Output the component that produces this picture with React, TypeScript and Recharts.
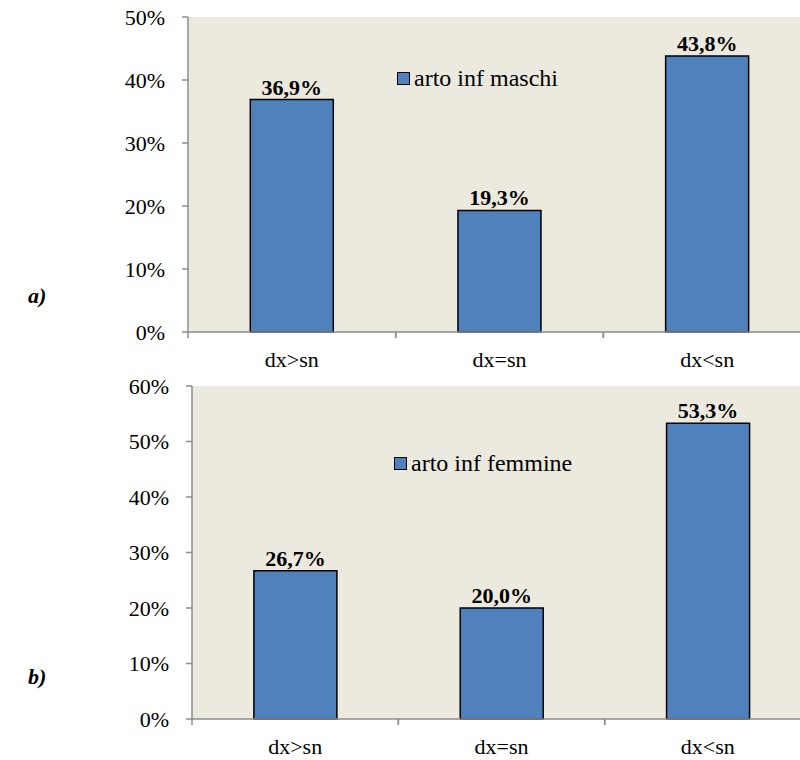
import { BarChart, Bar, XAxis, YAxis, CartesianGrid, Legend, LabelList } from "recharts"

const categories = ["dx>sn", "dx=sn", "dx<sn"]
const maschi = [36.9, 19.3, 43.8]
const femmine = [26.7, 20.0, 53.3]
const ticksA = [0, 10, 20, 30, 40, 50]
const ticksB = [0, 10, 20, 30, 40, 50, 60]

const dataA = categories.map((c, i) => ({ name: c, value: maschi[i] }))
const dataB = categories.map((c, i) => ({ name: c, value: femmine[i] }))

const FONT = "'Liberation Serif', 'Times New Roman', serif"
const BAR = "#4F81BD"
const BG = "#ECE9DF"
const AXIS = "#8C8C8C"

const pct = (v: number) => `${v}%`
const pctLabel = (v: any) => `${Number(v).toFixed(1).replace(".", ",")}%`

// tick marks sit on the category borders, the label in the middle
function CategoryTick(props: any) {
  const { x, y, payload, width, visibleTicksCount } = props
  const half = payload.offset ?? width / (2 * visibleTicksCount)
  return (
    <g>
      <line x1={x - half} x2={x - half} y1={y} y2={y + 6} stroke={AXIS} strokeWidth={1.5} />
      <line x1={x + half} x2={x + half} y1={y} y2={y + 6} stroke={AXIS} strokeWidth={1.5} />
      <text x={x} y={y + 27} dy="0.355em" textAnchor="middle" fontFamily={FONT} fontSize={22} fill="#000">
        {payload.value}
      </text>
    </g>
  )
}

function LegendBox({ label }: { label: string }) {
  return (
    <div style={{ display: "flex", alignItems: "center", fontFamily: FONT, fontSize: 24, color: "#000", whiteSpace: "nowrap" }}>
      <span style={{ width: 11, height: 11, background: BAR, border: "1.5px solid #000", marginRight: 4 }} />
      {label}
    </div>
  )
}

function Panel({ data, ticks, max, axisWidth, height, legend, legendPos }: any) {
  return (
    <BarChart
      width={830}
      height={height}
      data={data}
      margin={{ top: 17, right: 830 - 811, left: 0, bottom: 8 }}
      barCategoryGap="30%"
    >
      <CartesianGrid horizontal={false} vertical={false} fill={BG} stroke="none" />
      <XAxis
        dataKey="name"
        height={40}
        axisLine={{ stroke: AXIS, strokeWidth: 1.5 }}
        tickLine={false}
        tickSize={0}
        tickMargin={0}
        tick={<CategoryTick />}
        interval={0}
      />
      <YAxis
        width={axisWidth}
        domain={[0, max]}
        ticks={ticks}
        tickFormatter={pct}
        axisLine={{ stroke: AXIS, strokeWidth: 1.5 }}
        tickLine={{ stroke: AXIS, strokeWidth: 1.5 }}
        tickSize={6}
        tickMargin={17}
        tick={{ fontFamily: FONT, fontSize: 22, fill: "#000" }}
      />
      <Legend
        layout="vertical"
        align="center"
        verticalAlign="middle"
        wrapperStyle={{ left: legendPos[0], top: legendPos[1], width: "auto" }}
        content={() => <LegendBox label={legend} />}
      />
      <Bar dataKey="value" fill={BAR} stroke="#000" strokeWidth={1.5} isAnimationActive={false}>
        <LabelList
          dataKey="value"
          position="top"
          offset={5}
          formatter={pctLabel}
          style={{ fontFamily: FONT, fontSize: 22, fontWeight: "bold", fill: "#000" }}
        />
      </Bar>
    </BarChart>
  )
}

export default function App() {
  const tag = { position: "absolute" as const, fontFamily: FONT, fontSize: 22, fontWeight: "bold" as const, fontStyle: "italic" as const }
  return (
    <div style={{ position: "fixed", left: 0, top: 0, width: 800, height: 760, overflow: "hidden", background: "#fff" }}>
      <div style={{ position: "absolute", left: 0, top: 0 }}>
        <Panel data={dataA} ticks={ticksA} max={50} axisWidth={188} height={380} legend="arto inf maschi" legendPos={[397, 65]} />
      </div>
      <div style={{ position: "absolute", left: 0, top: 369 }}>
        <Panel data={dataB} ticks={ticksB} max={60} axisWidth={192} height={398} legend="arto inf femmine" legendPos={[394, 81]} />
      </div>
      <div style={{ ...tag, left: 28, top: 283 }}>a)</div>
      <div style={{ ...tag, left: 28, top: 664 }}>b)</div>
    </div>
  )
}
